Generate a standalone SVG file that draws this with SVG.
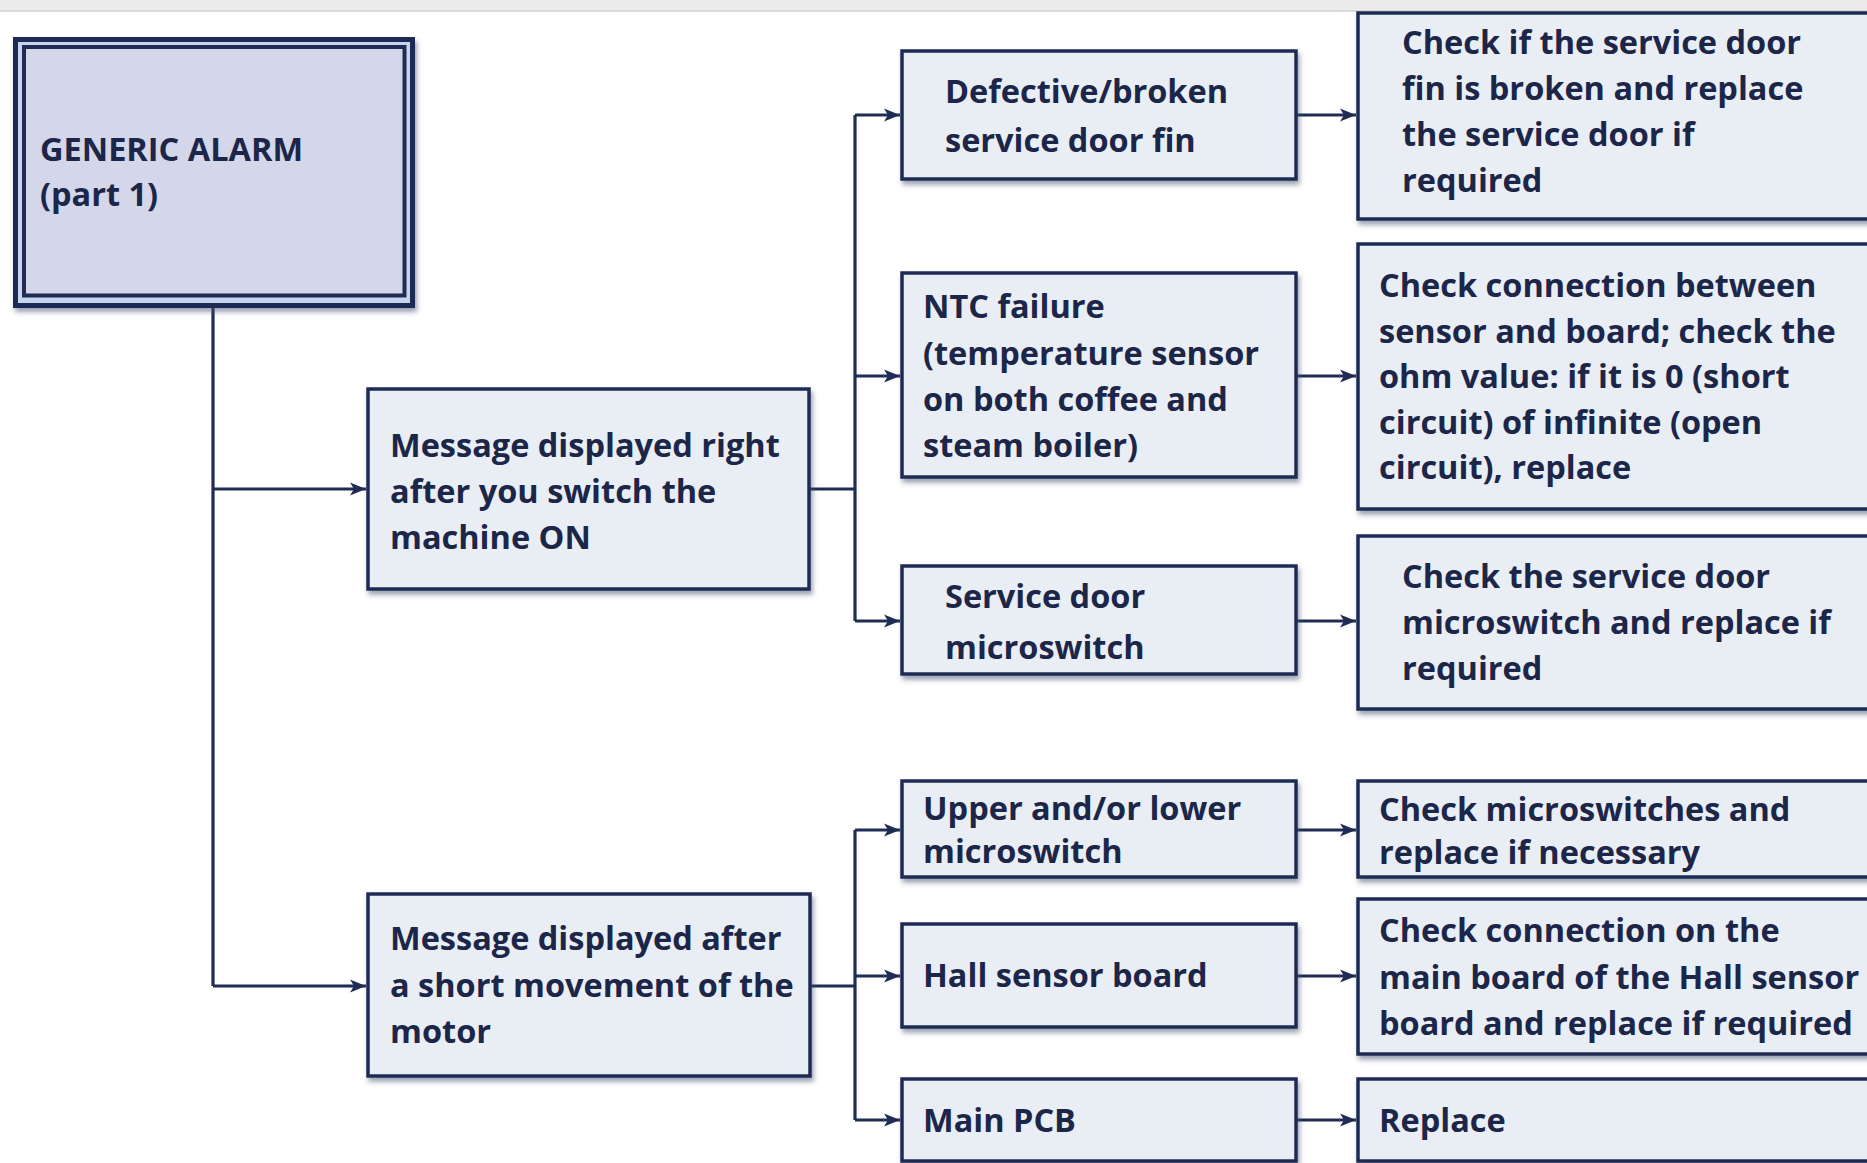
<svg xmlns="http://www.w3.org/2000/svg" width="1867" height="1163" viewBox="0 0 1867 1163">
<style>
.box{fill:#e9edf4;stroke:#1f2c54;stroke-width:3.5;filter:url(#sh)}
.t{font-family:"Open Sans","Noto Sans","Liberation Sans",sans-serif;font-weight:bold;font-size:32.5px;fill:#1c2649}
.c{fill:none;stroke:#1f2c54;stroke-width:3.2}
.a{fill:none;stroke:#1f2c54;stroke-width:3.2;marker-end:url(#arr)}
</style>
<defs>
<filter id="sh" x="-5%" y="-5%" width="115%" height="125%">
<feDropShadow dx="2" dy="4" stdDeviation="2.5" flood-color="#4a5575" flood-opacity="0.55"/>
</filter>
<marker id="arr" markerUnits="userSpaceOnUse" markerWidth="17" markerHeight="16" refX="16" refY="8" orient="auto">
<path d="M0,1.5 L16,8 L0,14.5 L4,8 Z" fill="#1f2c54"/>
</marker>
</defs>
<rect x="0" y="0" width="1867" height="1163" fill="#ffffff"/>
<rect x="0" y="0" width="1867" height="10" fill="#ececec"/>
<line x1="0" y1="11" x2="1867" y2="11" stroke="#dadada" stroke-width="2"/>

<g id="connectors">
<path class="c" d="M213,308 V986"/>
<path class="a" d="M213,489 H366"/>
<path class="a" d="M213,986 H366"/>
<path class="c" d="M810,489 H855"/>
<path class="c" d="M855,115 V621"/>
<path class="a" d="M855,115 H900"/>
<path class="a" d="M855,376 H900"/>
<path class="a" d="M855,621 H900"/>
<path class="c" d="M811,986 H855"/>
<path class="c" d="M855,830 V1120"/>
<path class="a" d="M855,830 H900"/>
<path class="a" d="M855,976 H900"/>
<path class="a" d="M855,1120 H900"/>
<path class="a" d="M1297,115 H1356"/>
<path class="a" d="M1297,376 H1356"/>
<path class="a" d="M1297,621 H1356"/>
<path class="a" d="M1297,830 H1356"/>
<path class="a" d="M1297,976 H1356"/>
<path class="a" d="M1297,1120 H1356"/>
</g>

<g id="generic">
<rect x="15.5" y="39.5" width="397" height="266" fill="#c9d3ee" stroke="#1f2c54" stroke-width="5" filter="url(#sh)"/>
<rect x="24" y="47" width="380.5" height="248.5" fill="#d4d6e9" stroke="#1f2c54" stroke-width="4"/>
<text class="t" x="40" y="161">GENERIC ALARM</text>
<text class="t" x="40" y="206">(part 1)</text>
</g>

<g id="msg1">
<rect class="box" x="368" y="389" width="441" height="200"/>
<text class="t" x="390" y="457">Message displayed right</text>
<text class="t" x="390" y="503">after you switch the</text>
<text class="t" x="390" y="549">machine ON</text>
</g>

<g id="msg2">
<rect class="box" x="368" y="894" width="442" height="182"/>
<text class="t" x="390" y="950">Message displayed after</text>
<text class="t" x="390" y="997">a short movement of the</text>
<text class="t" x="390" y="1043">motor</text>
</g>

<g id="defective">
<rect class="box" x="902" y="51" width="394" height="128"/>
<text class="t" x="945" y="103">Defective/broken</text>
<text class="t" x="945" y="152">service door fin</text>
</g>

<g id="ntc">
<rect class="box" x="902" y="273" width="394" height="204"/>
<text class="t" x="923" y="318">NTC failure</text>
<text class="t" x="923" y="364.5">(temperature sensor</text>
<text class="t" x="923" y="411">on both coffee and</text>
<text class="t" x="923" y="457">steam boiler)</text>
</g>

<g id="sdm">
<rect class="box" x="902" y="566" width="394" height="108"/>
<text class="t" x="945" y="608">Service door</text>
<text class="t" x="945" y="659">microswitch</text>
</g>

<g id="upper">
<rect class="box" x="902" y="781" width="394" height="96"/>
<text class="t" x="923" y="820">Upper and/or lower</text>
<text class="t" x="923" y="863">microswitch</text>
</g>

<g id="hall">
<rect class="box" x="902" y="924" width="394" height="103"/>
<text class="t" x="923" y="987">Hall sensor board</text>
</g>

<g id="mainpcb">
<rect class="box" x="902" y="1079" width="394" height="82"/>
<text class="t" x="923" y="1132">Main PCB</text>
</g>

<g id="r1">
<rect class="box" x="1358" y="13" width="540" height="206"/>
<text class="t" x="1402" y="54">Check if the service door</text>
<text class="t" x="1402" y="100">fin is broken and replace</text>
<text class="t" x="1402" y="146">the service door if</text>
<text class="t" x="1402" y="192">required</text>
</g>

<g id="r2">
<rect class="box" x="1358" y="244" width="540" height="265"/>
<text class="t" x="1379" y="297">Check connection between</text>
<text class="t" x="1379" y="342.5">sensor and board; check the</text>
<text class="t" x="1379" y="388">ohm value: if it is 0 (short</text>
<text class="t" x="1379" y="433.5">circuit) of infinite (open</text>
<text class="t" x="1379" y="479">circuit), replace</text>
</g>

<g id="r3">
<rect class="box" x="1358" y="536" width="540" height="173"/>
<text class="t" x="1402" y="588">Check the service door</text>
<text class="t" x="1402" y="634">microswitch and replace if</text>
<text class="t" x="1402" y="680">required</text>
</g>

<g id="r4">
<rect class="box" x="1358" y="781" width="540" height="96"/>
<text class="t" x="1379" y="821">Check microswitches and</text>
<text class="t" x="1379" y="864">replace if necessary</text>
</g>

<g id="r5">
<rect class="box" x="1358" y="899" width="540" height="155"/>
<text class="t" x="1379" y="942">Check connection on the</text>
<text class="t" x="1379" y="988.5">main board of the Hall sensor</text>
<text class="t" x="1379" y="1035">board and replace if required</text>
</g>

<g id="r6">
<rect class="box" x="1358" y="1079" width="540" height="82"/>
<text class="t" x="1379" y="1132">Replace</text>
</g>
</svg>
